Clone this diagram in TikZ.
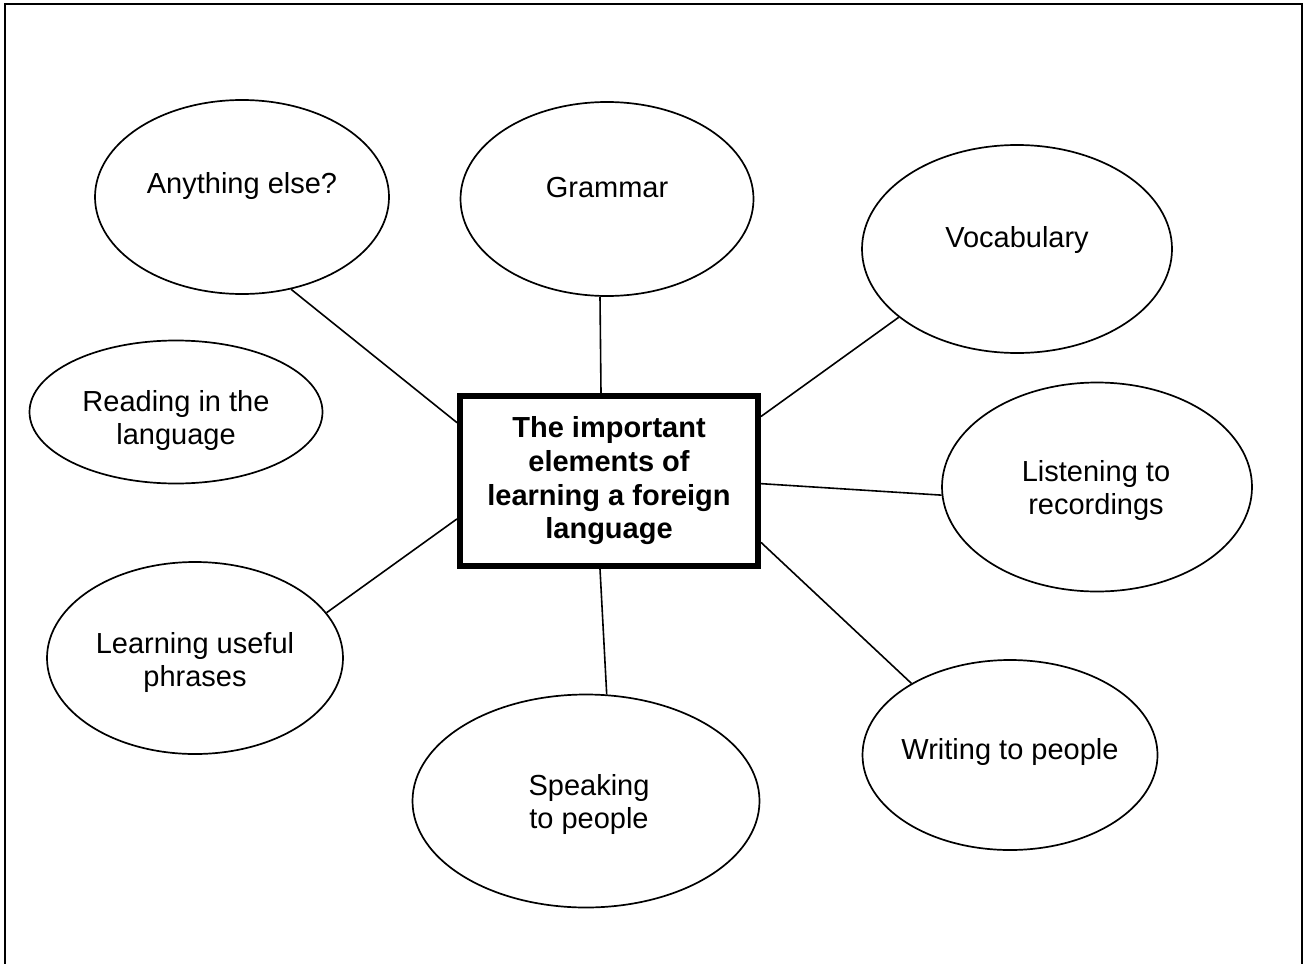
\documentclass[tikz,border=0pt]{standalone}
\usepackage{fontspec}
\setmainfont{Liberation Sans}
\usetikzlibrary{shapes.geometric,calc}
\begin{document}
\begin{tikzpicture}[x=1pt,y=-1pt,
  bubble/.style={draw,ellipse,line width=1.7pt,inner sep=0pt},
  lbl/.style={align=center,inner sep=0pt,font=\fontsize{29}{33}\selectfont},
  link/.style={line width=1.6pt},
  hub/.style={draw,rectangle,line width=6pt,minimum width=298pt,minimum height=170pt,
    inner sep=0pt,align=center,font=\bfseries\fontsize{29}{33.7}\selectfont}]
\useasboundingbox (0,0) rectangle (1308,963);
% outer frame
\coordinate (fbl) at (5,980);
\coordinate (ftl) at (5,4);
\coordinate (ftr) at (1302,4);
\coordinate (fbr) at (1302,980);
\draw[line width=2pt] (fbl) -- (ftl) -- (ftr) -- (fbr);
% central box
\node[hub] (hub) at (609,481) {The important\\elements of\\learning a foreign\\language};
% ellipses
\node[bubble,minimum width=294pt,minimum height=194pt] (any) at (242,197) {};
\node[bubble,minimum width=293pt,minimum height=194pt] (gram) at (607,199) {};
\node[bubble,minimum width=310pt,minimum height=208pt] (voc) at (1017,249) {};
\node[bubble,minimum width=293pt,minimum height=143pt] (read) at (176,412) {};
\node[bubble,minimum width=310pt,minimum height=209pt] (list) at (1097,487) {};
\node[bubble,minimum width=296pt,minimum height=192pt] (learn) at (195,658) {};
\node[bubble,minimum width=347pt,minimum height=213pt] (speak) at (586,801) {};
\node[bubble,minimum width=295pt,minimum height=190pt] (write) at (1010,755) {};
% labels
\node[lbl] (anyt) at (242,186) {Anything else?};
\node[lbl] (gramt) at (607,188) {Grammar};
\node[lbl] (voct) at (1017,240) {Vocabulary};
\node[lbl] (readt) at (176,420) {Reading in the\\language};
\node[lbl] (listt) at (1096,490) {Listening to\\recordings};
\node[lbl] (learnt) at (195,662) {Learning useful\\phrases};
\node[lbl] (speakt) at (589,804) {Speaking\\to people};
\node[lbl] (writet) at (1010,752) {Writing to people};
% connectors
\draw[link] (any.-62.5) -- (hub.159.8);
\draw[link] ([xshift=-8pt]hub.north) -- ([xshift=-7pt]gram.south);
\draw[link] (hub.23.3) -- (voc.-150.5);
\draw[link] (hub.-1.9) -- (list.-177.8);
\draw[link] (hub.-22.3) -- (write.144.8);
\draw[link] ([xshift=-9pt]hub.south) -- (speak.79.5);
\draw[link] (hub.-166.8) -- (learn.19.2);
\end{tikzpicture}
\end{document}
